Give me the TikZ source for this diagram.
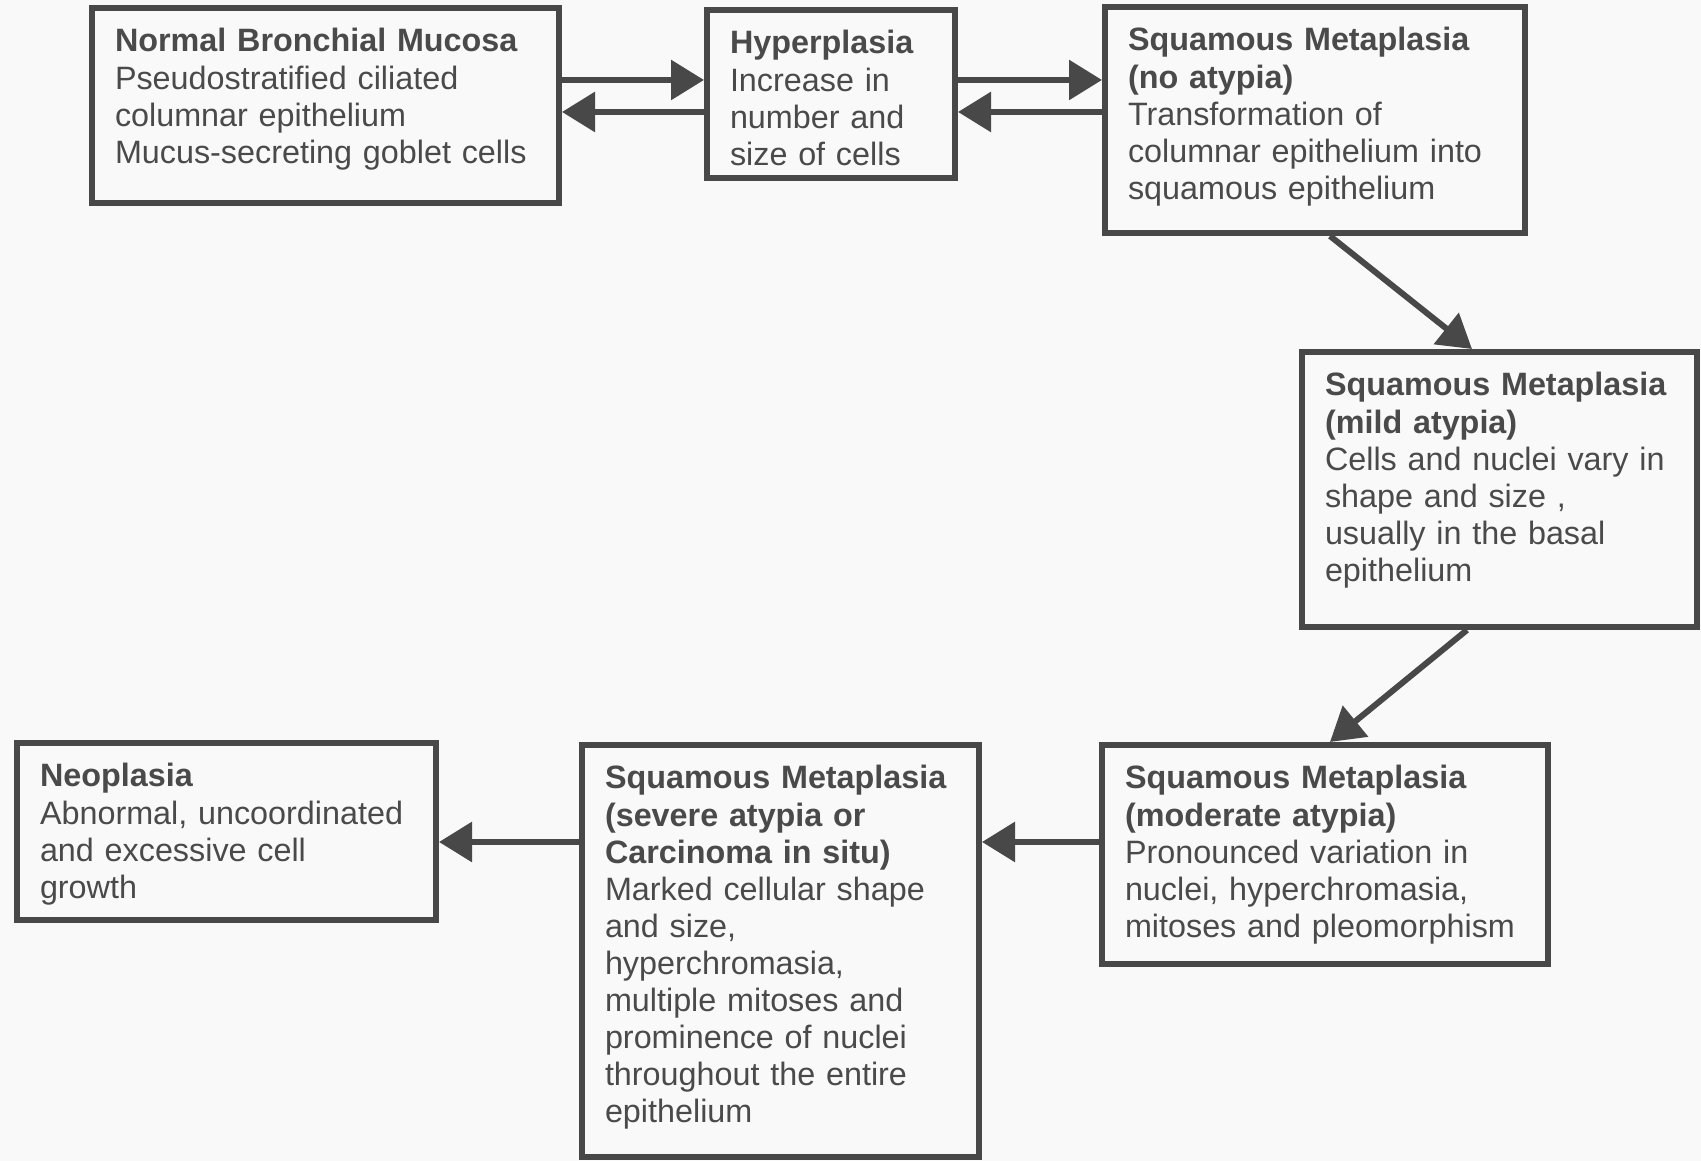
\documentclass[tikz,border=0pt]{standalone}
\usepackage{fontspec}
\setmainfont{Liberation Sans}
\usepackage{xcolor}
\definecolor{linegray}{RGB}{72,72,72}
\definecolor{textgray}{RGB}{74,74,74}
\definecolor{paper}{RGB}{249,249,249}
\usetikzlibrary{arrows.meta}

\begin{document}
\begin{tikzpicture}[
  box/.style={draw=linegray, line width=0.12cm, anchor=north west, align=left,
    inner xsep=0.46cm, inner ysep=0pt, text height=0.88cm, text=textgray,
    font=\fontsize{18.4pt}{21.1pt}\selectfont},
  arr/.style={draw=linegray, line width=0.12cm, -{Triangle[length=0.66cm,width=0.78cm]}}]
\fill[paper] (0,0) rectangle (34.02,23.22);
\node[box, text width=8.42cm, text depth=3.02cm] (normal) at (1.78,23.12)
  {\textbf{Normal Bronchial Mucosa}\\Pseudostratified ciliated\\columnar epithelium\\Mucus-secreting goblet cells};
\node[box, text width=4.04cm, text depth=2.48cm] (hyper) at (14.08,23.08)
  {\textbf{Hyperplasia}\\Increase in\\number and\\size of cells};
\node[box, text width=7.48cm, text depth=3.64cm] (noatypia) at (22.04,23.14)
  {\textbf{Squamous Metaplasia}\\\textbf{(no atypia)}\\Transformation of\\columnar epithelium into\\squamous epithelium};
\node[box, text width=6.98cm, text depth=4.62cm] (mild) at (25.98,16.24)
  {\textbf{Squamous Metaplasia}\\\textbf{(mild atypia)}\\Cells and nuclei vary in\\shape and size ,\\usually in the basal\\epithelium};
\node[box, text width=8.00cm, text depth=3.50cm] (moderate) at (21.98,8.38)
  {\textbf{Squamous Metaplasia}\\\textbf{(moderate atypia)}\\Pronounced variation in\\nuclei, hyperchromasia,\\mitoses and pleomorphism};
\node[box, text width=7.02cm, text depth=7.36cm] (severe) at (11.58,8.38)
  {\textbf{Squamous Metaplasia}\\\textbf{(severe atypia or}\\\textbf{Carcinoma in situ)}\\Marked cellular shape\\and size,\\hyperchromasia,\\multiple mitoses and\\prominence of nuclei\\throughout the entire\\epithelium};
\node[box, text width=7.46cm, text depth=2.66cm] (neoplasia) at (0.28,8.42)
  {\textbf{Neoplasia}\\Abnormal, uncoordinated\\and excessive cell\\growth};
\coordinate (upper) at (0,21.62);
\coordinate (lower) at (0,20.98);
\coordinate (lowrow) at (0,6.38);
\draw[arr] (normal.east |- upper) -- (hyper.west |- upper);
\draw[arr] (hyper.west |- lower) -- (normal.east |- lower);
\draw[arr] (hyper.east |- upper) -- (noatypia.west |- upper);
\draw[arr] (noatypia.west |- lower) -- (hyper.east |- lower);
\draw[arr] ([xshift=0.30cm]noatypia.south) -- ([xshift=-0.55cm]mild.north);
\draw[arr] ([xshift=-0.65cm]mild.south) -- ([xshift=0.10cm]moderate.north);
\draw[arr] (moderate.west |- lowrow) -- (severe.east |- lowrow);
\draw[arr] (severe.west |- lowrow) -- (neoplasia.east |- lowrow);
\end{tikzpicture}
\end{document}
